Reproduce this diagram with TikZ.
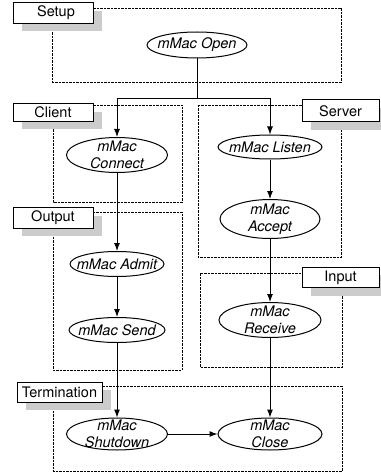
\documentclass[tikz,border=0pt]{standalone}
\usepackage{fontspec}
\setmainfont{TeX Gyre Heros}
\usetikzlibrary{shapes.geometric,shadows,arrows.meta}
\begin{document}
\begin{tikzpicture}[x=1pt,y=-1pt,font=\fontsize{14.5}{17}\selectfont,
    call/.style={draw,ellipse,line width=1pt,inner sep=-20pt,align=center,font=\fontsize{14.5}{17}\selectfont\itshape},
    group/.style={draw,line width=0.9pt,dash pattern=on 2.5pt off 1pt},
    tag/.style={draw,fill=white,line width=1pt,minimum height=20pt,drop shadow={shadow xshift=9pt,shadow yshift=-8pt,fill=gray!40,opacity=1}},
    flow/.style={-{Latex[length=8pt,width=6pt]},line width=1pt}]
      \useasboundingbox (0,0) rectangle (380,473);
      \draw[group] (52,8) rectangle (341,82);
      \draw[group] (53,105) rectangle (182,202);
      \draw[group] (198,105) rectangle (341,257);
      \draw[group] (53,212) rectangle (182,370);
      \draw[group] (200,273) rectangle (342,367);
      \draw[group] (53,386) rectangle (342,471);
      \node[tag,minimum width=80pt] (setup) at (53,13) {\hspace*{6pt}Setup};
      \node[tag,minimum width=80pt,minimum height=17pt] (client) at (53,112.5) {Client};
      \node[tag,minimum width=77pt,minimum height=22pt] (server) at (340.5,111) {Server};
      \node[tag,minimum width=80pt,minimum height=18pt] (output) at (53,218) {Output};
      \node[tag,minimum width=77pt] (input) at (340.5,277.5) {Input};
      \node[tag,minimum width=85pt] (termination) at (59.5,392) {Termination};
      \node[call,minimum width=100pt,minimum height=26pt] (open) at (197,45) {mMac Open};
      \node[call,minimum width=101pt,minimum height=35pt] (connect) at (117,155) {mMac\\Connect};
      \node[call,minimum width=104pt,minimum height=24pt] (listen) at (270,147) {mMac Listen};
      \node[call,minimum width=100pt,minimum height=39pt] (accept) at (270,219) {mMac\\Accept};
      \node[call,minimum width=94pt,minimum height=25pt] (admit) at (117,264) {mMac Admit};
      \node[call,minimum width=96pt,minimum height=25pt] (send) at (117,330) {mMac Send};
      \node[call,minimum width=102pt,minimum height=35pt] (receive) at (270,320) {mMac\\Receive};
      \node[call,minimum width=101pt,minimum height=32pt] (shutdown) at (117,434) {mMac\\Shutdown};
      \node[call,minimum width=104pt,minimum height=32pt] (close) at (270,434) {mMac\\Close};
      \coordinate (fork) at (197,99);
      \draw[line width=1pt] (open) -- (fork);
      \draw[flow] (fork) -| (connect);
      \draw[flow] (fork) -| (listen);
      \draw[flow] (connect) -- (admit);
      \draw[flow] (admit) -- (send);
      \draw[flow] (send) -- (shutdown);
      \draw[flow] (listen) -- (accept);
      \draw[flow] (accept) -- (receive);
      \draw[flow] (receive) -- (close);
      \draw[flow] (shutdown) -- (close);
\end{tikzpicture}
\end{document}
